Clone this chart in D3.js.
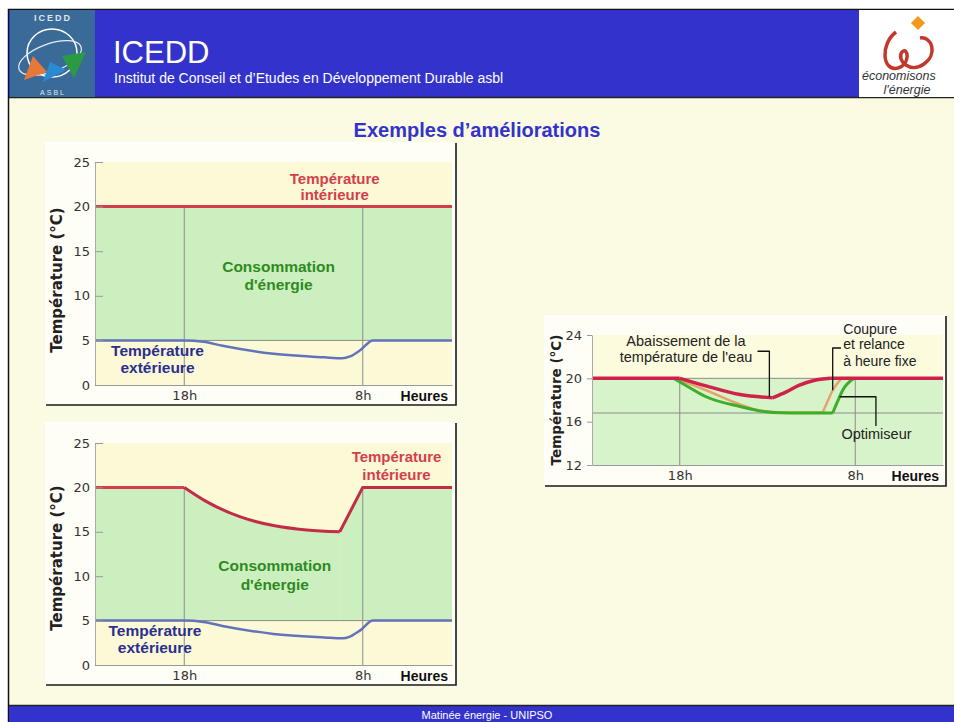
<!DOCTYPE html>
<html>
<head>
<meta charset="utf-8">
<script src="https://cdn.jsdelivr.net/npm/d3@7"></script>
<style>
  body { margin: 0; background: #fff; }
  svg { display: block; font-family: "Liberation Sans", Arial, sans-serif; }
</style>
</head>
<body>
<div id="main"></div>
<script>
// ---- data ----
// hours counted from midnight of day 1 : 11h .. 15h next day
const hours = [11, 39];
const hourTicks = [18, 32];
const hourLabels = ["18h", "8h"];

const yTicks12 = [0, 5, 10, 15, 20, 25];
const yTicks3 = [12, 16, 20, 24];

// constant set point (chart 1, fill of chart 3)
const consigne = [[11, 20], [39, 20]];
// outside temperature (charts 1 and 2)
const exterieur = [[11, 5], [18, 5], [19.5, 4.85], [21, 4.4], [25, 3.5], [29, 3.1], [30.4, 3.0], [31, 3.2], [31.8, 3.9], [32.8, 5], [39, 5]];

// chart 2 : night setback of the inside temperature
const int2Soir = [[11, 20], [18, 20]];
const int2Nuit = [[18, 20], [19.75, 18.4], [22.35, 16.7], [25, 15.7], [27.6, 15.2], [30.2, 15]];
const int2Relance = [[30.2, 15], [32, 20], [39, 20]];

// chart 3 : water temperature
const eauSoir = [[11, 20], [18, 20]];
const eauBaisse = [[18, 20], [20.1, 19.3], [22.8, 18.5], [25.4, 18.2]];
const eauRemonte = [[25.4, 18.2], [26.5, 18.75], [27.5, 19.35], [28.7, 19.8], [30, 20]];
const eauJour = [[30, 20], [39, 20]];
const coupureBaisse = [[17.6, 20], [20.1, 18.9], [22.8, 17.6], [24.5, 17.0], [27, 16.85], [29.4, 16.85]];
const coupureRelance = [[29.4, 16.85], [29.8, 17.9], [30.2, 18.9], [30.9, 20]];
const optiBaisse = [[17.5, 20], [18.7, 19.2], [20.1, 18.3], [22.8, 17.4], [25.4, 16.85], [28.1, 16.8], [30.2, 16.8]];
const optiRelance = [[30.2, 16.8], [30.6, 17.9], [31.0, 18.9], [31.9, 20]];
const niveauBas = 16.8;

// annotation leaders chart 3
const leaderAbaissement = [[24.2, 22.5], [25.15, 22.5], [25.15, 18.3]];
const leaderCoupure = [[30.86, 22.8], [30.2, 22.8], [30.2, 18.9]];
const leaderOptimiseur = [[30.75, 18.3], [33.65, 18.3], [33.65, 15.6]];

// ---- colours ----
const yellow = "#fcfad6";
const greenFill = "#ccefbf";
const grey = "#8c8c8c";
const blueHead = "#3333cc";

const svg = d3.select('#main').append('svg')
  .attr('width', 954).attr('height', 722);

// slide frame
svg.append('rect').attr('x', 0).attr('y', 0).attr('width', 954).attr('height', 722).attr('fill', '#fff');
svg.append('rect').attr('x', 8.5).attr('y', 9.5).attr('width', 960).attr('height', 720)
  .attr('fill', '#fbfbe3').attr('stroke', '#111').attr('stroke-width', 1.5);

// header
svg.append('rect').attr('x', 9).attr('y', 10).attr('width', 945).attr('height', 87).attr('fill', blueHead);
svg.append('line').attr('x1', 9).attr('x2', 954).attr('y1', 97.5).attr('y2', 97.5).attr('stroke', '#222').attr('stroke-width', 1.5);
svg.append('text').attr('x', 113).attr('y', 63).attr('fill', '#fff').attr('font-size', 31).text('ICEDD');
svg.append('text').attr('x', 114).attr('y', 83).attr('fill', '#fff').attr('font-size', 14)
  .text('Institut de Conseil et d\u2019Etudes en Développement Durable asbl');

// left logo
const logo = svg.append('g');
logo.append('rect').attr('x', 10).attr('y', 10).attr('width', 85).attr('height', 87).attr('fill', '#3a6b98');
logo.append('text').attr('x', 53).attr('y', 21).attr('text-anchor', 'middle').attr('fill', '#dfe6ee')
  .attr('font-size', 9).attr('font-weight', 'bold').attr('letter-spacing', 2).text('ICEDD');
logo.append('text').attr('x', 53).attr('y', 95).attr('text-anchor', 'middle').attr('fill', '#dfe6ee')
  .attr('font-size', 7).attr('letter-spacing', 2).text('ASBL');
logo.append('ellipse').attr('cx', 52).attr('cy', 53).attr('rx', 25).attr('ry', 24)
  .attr('fill', 'none').attr('stroke', '#fff').attr('stroke-width', 1.5);
logo.append('ellipse').attr('cx', 50).attr('cy', 58).attr('rx', 33).attr('ry', 14)
  .attr('transform', 'rotate(-20 50 58)').attr('fill', 'none').attr('stroke', '#e8eef4').attr('stroke-width', 1.2);
logo.append('polygon').attr('points', '24,80 33,56 47,72').attr('fill', '#e8773a');
logo.append('polygon').attr('points', '43,82 50,62 66,70').attr('fill', '#2a8ad4');
logo.append('polygon').attr('points', '62,56 86,52 74,78').attr('fill', '#2a9a44');

// right logo
const logo2 = svg.append('g');
logo2.append('rect').attr('x', 859).attr('y', 10).attr('width', 95).attr('height', 87).attr('fill', '#fff');
logo2.append('path')
  .attr('d', 'M896,32 C880,44 882,72 898,68 C911,64 908,46 902,52 C896,60 910,74 924,64 C938,54 932,36 920,38')
  .attr('fill', 'none').attr('stroke', '#c0392b').attr('stroke-width', 3.5);
logo2.append('rect').attr('x', 913).attr('y', 18).attr('width', 10).attr('height', 10)
  .attr('transform', 'rotate(45 918 23)').attr('fill', '#f39a1e');
logo2.append('text').attr('x', 862).attr('y', 80).attr('font-size', 12.5).attr('font-style', 'italic')
  .attr('fill', '#333').text('économisons');
logo2.append('text').attr('x', 907).attr('y', 94).attr('text-anchor', 'middle').attr('font-size', 12.5)
  .attr('font-style', 'italic').attr('fill', '#333').text("l'énergie");

// footer
svg.append('rect').attr('x', 9).attr('y', 706).attr('width', 945).attr('height', 16).attr('fill', blueHead);
svg.append('line').attr('x1', 9).attr('x2', 954).attr('y1', 705.5).attr('y2', 705.5).attr('stroke', '#222').attr('stroke-width', 1.5);
svg.append('text').attr('x', 487).attr('y', 719).attr('text-anchor', 'middle').attr('fill', '#fff')
  .attr('font-size', 11).text('Matinée énergie - UNIPSO');

// title
svg.append('text').attr('x', 477).attr('y', 137).attr('text-anchor', 'middle')
  .attr('fill', blueHead).attr('font-size', 20).attr('font-weight', 'bold')
  .text('Exemples d\u2019améliorations');

// ---- helpers ----
function makeChart(box, plot, yDomain, plotBg) {
  const g = svg.append('g');
  g.append('rect').attr('x', box.x).attr('y', box.y).attr('width', box.w).attr('height', box.h).attr('fill', '#fffef6');
  g.append('path').attr('d', `M${box.x},${box.y + box.h}V${box.y}H${box.x + box.w}`)
    .attr('fill', 'none').attr('stroke', '#fff').attr('stroke-width', 1.5);
  g.append('path').attr('d', `M${box.x + box.w},${box.y}V${box.y + box.h}H${box.x}`)
    .attr('fill', 'none').attr('stroke', '#1a1a1a').attr('stroke-width', 1.6);
  const x = d3.scaleLinear().domain(hours).range([plot.l, plot.r]);
  const y = d3.scaleLinear().domain(yDomain).range([plot.b, plot.t]);
  g.append('rect').attr('x', plot.l).attr('y', plot.t).attr('width', plot.r - plot.l)
    .attr('height', plot.b - plot.t).attr('fill', plotBg);
  return { g, x, y, plot, yDomain };
}

function fill(c, pts, base, color, curve) {
  c.g.append('path').datum(pts)
    .attr('fill', color)
    .attr('d', d3.area().x(d => c.x(d[0])).y0(c.y(base)).y1(d => c.y(d[1])).curve(curve || d3.curveLinear));
}

function grid(c, levels, vTop) {
  c.g.selectAll(null).data(levels).enter().append('line')
    .attr('x1', c.plot.l).attr('x2', c.plot.r)
    .attr('y1', d => c.y(d)).attr('y2', d => c.y(d))
    .attr('stroke', grey).attr('stroke-width', 1);
  c.g.selectAll(null).data(hourTicks).enter().append('line')
    .attr('x1', d => c.x(d)).attr('x2', d => c.x(d))
    .attr('y1', c.y(c.yDomain[0])).attr('y2', c.y(vTop))
    .attr('stroke', grey).attr('stroke-width', 1);
}

function drawLine(c, pts, color, width, curve) {
  c.g.append('path').datum(pts)
    .attr('fill', 'none').attr('stroke', color).attr('stroke-width', width)
    .attr('stroke-linejoin', 'round')
    .attr('d', d3.line().x(d => c.x(d[0])).y(d => c.y(d[1])).curve(curve || d3.curveLinear));
}

function axes(c, ticks, inner, titleY, titleX, titleSize) {
  const yAxis = d3.axisLeft(c.y).tickValues(ticks).tickSizeInner(inner).tickSizeOuter(0).tickPadding(5);
  const ya = c.g.append('g').attr('transform', `translate(${c.plot.l},0)`).call(yAxis);
  ya.select('.domain').attr('stroke', '#aaa');
  ya.selectAll('.tick line').attr('stroke', '#999');
  ya.selectAll('text').attr('fill', '#333').attr('font-size', 13).attr('font-family', '"DejaVu Sans", sans-serif');

  const xAxis = d3.axisBottom(c.x).tickValues(hourTicks).tickFormat((d, i) => hourLabels[i]).tickSize(0).tickPadding(6);
  const xa = c.g.append('g').attr('transform', `translate(0,${c.plot.b})`).call(xAxis);
  xa.select('.domain').attr('stroke', '#999');
  xa.selectAll('text').attr('fill', '#333').attr('font-size', 13).attr('font-family', '"DejaVu Sans", sans-serif');

  c.g.append('text').attr('x', c.plot.r - 4).attr('y', c.plot.b + 16).attr('text-anchor', 'end')
    .attr('font-size', 14).attr('font-weight', 'bold').attr('fill', '#111').text('Heures');

  c.g.append('text').attr('transform', `translate(${titleX},${titleY}) rotate(-90)`)
    .attr('text-anchor', 'middle').attr('font-size', titleSize).attr('font-weight', 'bold')
    .attr('font-family', '"DejaVu Sans", sans-serif').attr('fill', '#222')
    .text('Température (°C)');
}

function label(c, lines, hour, values, color, size, anchor, weight) {
  c.g.selectAll(null).data(lines).enter().append('text')
    .attr('x', c.x(hour)).attr('y', (d, i) => c.y(values[i]))
    .attr('text-anchor', anchor || 'middle')
    .attr('font-size', size).attr('font-weight', weight || 'bold')
    .attr('fill', color).text(d => d);
}

const red = "#d43e4c";
const blue = "#6272bb";
const greenText = "#2f8a22";
const blueText = "#2b2f8f";

// ---- chart 1 : constant inside temperature ----
const c1 = makeChart({ x: 46, y: 143, w: 410, h: 262 }, { l: 95, r: 452, t: 162, b: 385 }, [0, 25], yellow);
fill(c1, consigne, 5, greenFill);
grid(c1, [5], 20);
drawLine(c1, exterieur, blue, 2.5, d3.curveMonotoneX);
drawLine(c1, consigne, red, 3);
axes(c1, yTicks12, -8, 280, 62, 15);
label(c1, ['Température', 'intérieure'], 29.8, [22.5, 20.75], red, 15);
label(c1, ['Consommation', "d'énergie"], 25.4, [12.7, 10.65], greenText, 15.5);
label(c1, ['Température', 'extérieure'], 15.9, [3.3, 1.3], blueText, 15.5);

// ---- chart 2 : night setback ----
const c2 = makeChart({ x: 46, y: 423, w: 410, h: 262 }, { l: 95, r: 452, t: 443, b: 665 }, [0, 25], yellow);
fill(c2, int2Soir, 5, greenFill);
fill(c2, int2Nuit, 5, greenFill, d3.curveMonotoneX);
fill(c2, int2Relance, 5, greenFill);
grid(c2, [5], 20);
drawLine(c2, exterieur, blue, 2.5, d3.curveMonotoneX);
drawLine(c2, int2Soir, red, 3);
drawLine(c2, int2Nuit, "#c32c46", 3, d3.curveMonotoneX);
drawLine(c2, int2Relance, "#c32c46", 3);
axes(c2, yTicks12, -8, 558, 62, 15);
label(c2, ['Température', 'intérieure'], 34.65, [22.9, 20.8], red, 15);
label(c2, ['Consommation', "d'énergie"], 25.1, [10.6, 8.45], greenText, 15.5);
label(c2, ['Température', 'extérieure'], 15.7, [3.3, 1.3], blueText, 15.5);

// ---- chart 3 : water temperature ----
const c3 = makeChart({ x: 545, y: 316, w: 401, h: 170 }, { l: 592, r: 943, t: 335, b: 465 }, [12, 24], "#fcfbde");
fill(c3, consigne, 12, "#d6f3c9");
grid(c3, [niveauBas, 20], 20);
const red3 = "#d0214b";
drawLine(c3, coupureBaisse, "#e6a46c", 2.5, d3.curveMonotoneX);
drawLine(c3, coupureRelance, "#e6a46c", 2.5, d3.curveMonotoneX);
drawLine(c3, optiBaisse, "#3cae2a", 3, d3.curveMonotoneX);
drawLine(c3, optiRelance, "#3cae2a", 3, d3.curveMonotoneX);
drawLine(c3, eauSoir, red3, 3.5);
drawLine(c3, eauBaisse, red3, 3.5, d3.curveMonotoneX);
drawLine(c3, eauRemonte, red3, 3.5, d3.curveMonotoneX);
drawLine(c3, eauJour, red3, 3.5);
drawLine(c3, leaderAbaissement, "#111", 1.3);
drawLine(c3, leaderCoupure, "#111", 1.3);
drawLine(c3, leaderOptimiseur, "#111", 1.3);
axes(c3, yTicks3, 5, 400, 561, 13.5);
label(c3, ['Abaissement de la', "température de l'eau"], 18.5, [22.97, 21.5], "#222", 14.5, 'middle', 'normal');
label(c3, ['Coupure', 'et relance', 'à heure fixe'], 31.05, [24.1, 22.67, 21.13], "#222", 14, 'start', 'normal');
label(c3, ['Optimiseur'], 30.9, [14.4], "#222", 14.5, 'start', 'normal');
</script>
</body>
</html>
